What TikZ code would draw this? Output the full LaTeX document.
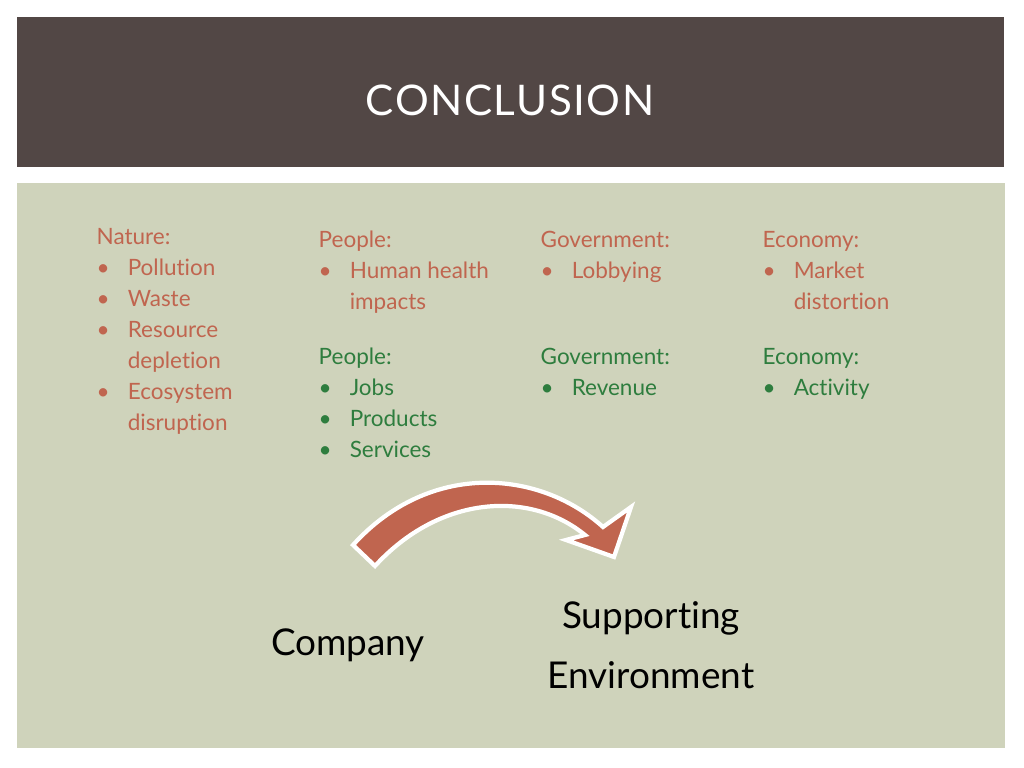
\documentclass[tikz,border=0pt]{standalone}
\usepackage{fontspec}
\setmainfont[Ligatures={NoCommon,NoDiscretionary}]{Lato}
\definecolor{headbrown}{HTML}{524745}
\definecolor{panel}{HTML}{CFD3BB}
\definecolor{costred}{HTML}{C0654F}
\definecolor{gaingreen}{HTML}{2E7D3E}
\newcommand{\blist}[1]{\begin{tabular}{@{}l@{\hspace{1.8mm}}l@{}}#1\end{tabular}}
\begin{document}
\begin{tikzpicture}[x=0.01cm,y=-0.01cm,
  col/.style={anchor=north west,inner sep=0pt,font=\fontsize{6.4}{8.8}\selectfont},
  cost/.style={col,text=costred},
  gain/.style={col,text=gaingreen},
  big/.style={font=\fontsize{10.5}{17}\selectfont,align=center}]
\useasboundingbox (0,0) rectangle (1024,768);
\fill[white] (0,0) rectangle (1024,768);
\fill[headbrown] (17,17) rectangle (1004,167);
\fill[panel] (17,183) rectangle (1005,748);
\node[text=white,font=\fontsize{12}{15}\selectfont] (title) at (510,100) {C\kern0.4pt O\kern0.4pt N\kern0.4pt C\kern0.4pt L\kern0.4pt U\kern0.4pt S\kern0.4pt I\kern0.4pt O\kern0.4pt N};

% costs
\node[cost] (nature) at (96,222) {\blist{\multicolumn{2}{@{}l}{Nature:}\\ \textbullet & Pollution\\ \textbullet & Waste\\ \textbullet & Resource\\ & depletion\\ \textbullet & Ecosystem\\ & disruption}};
\node[cost] (people1) at (318,225) {\blist{\multicolumn{2}{@{}l}{People:}\\ \textbullet & Human health\\ & impacts}};
\node[cost] (gov1) at (540,225) {\blist{\multicolumn{2}{@{}l}{Government:}\\ \textbullet & Lobbying}};
\node[cost] (eco1) at (762,225) {\blist{\multicolumn{2}{@{}l}{Economy:}\\ \textbullet & Market\\ & distortion}};
% gains
\node[gain] (people2) at (318,342) {\blist{\multicolumn{2}{@{}l}{People:}\\ \textbullet & Jobs\\ \textbullet & Products\\ \textbullet & Services}};
\node[gain] (gov2) at (540,342) {\blist{\multicolumn{2}{@{}l}{Government:}\\ \textbullet & Revenue}};
\node[gain] (eco2) at (762,342) {\blist{\multicolumn{2}{@{}l}{Economy:}\\ \textbullet & Activity}};

\node[big] (company) at (348,645) {Company};
\node[big] (env) at (651,645) {Supporting\\Environment};

% curved arrow
\filldraw[fill=costred,draw=white,line width=1.2pt,line join=miter]
  (353,545) .. controls (430,460) and (540,470) .. (603,527)
  -- (631,507) -- (614,557) -- (566,540) -- (585,535)
  .. controls (530,490) and (440,495) .. (375,566) -- cycle;
\end{tikzpicture}
\end{document}
